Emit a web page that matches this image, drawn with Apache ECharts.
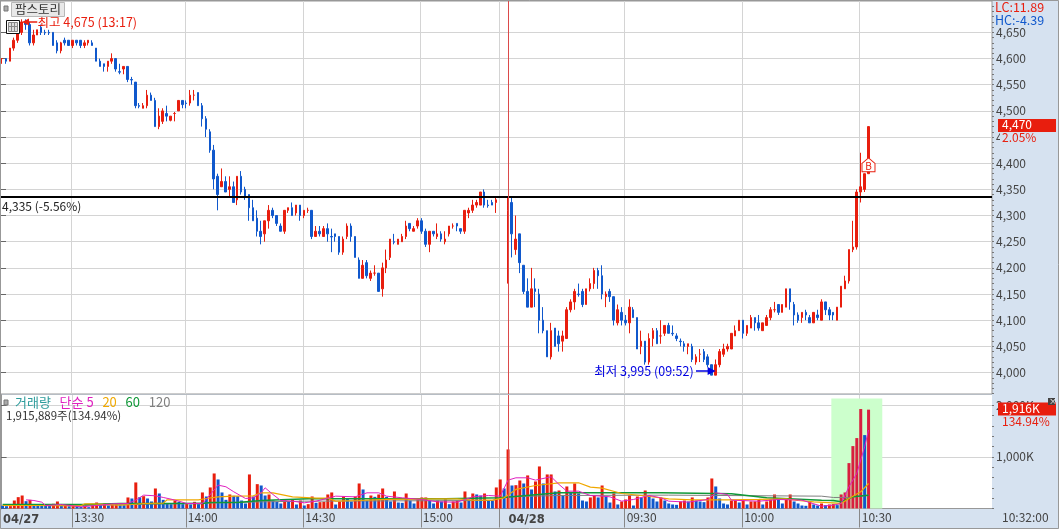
<!DOCTYPE html>
<html>
<head>
<meta charset="utf-8">
<script src="https://cdn.jsdelivr.net/npm/echarts@6/dist/echarts.min.js"></script>
<style>
  html, body { margin: 0; padding: 0; background: #fff; }
  #main { width: 1059px; height: 529px; }
</style>
</head>
<body>
<div id="main"></div>
<script>
// one row per minute: open, close, low, high
const candles = [
  [4600,4600,4590,4600],[4600,4595,4590,4600],[4595,4620,4595,4620],[4620,4635,4615,4640],[4635,4650,4630,4660],
  [4650,4670,4645,4675],[4670,4665,4655,4675],[4665,4630,4625,4670],[4630,4645,4625,4655],[4645,4655,4645,4655],
  [4660,4650,4645,4665],[4650,4649,4645,4655],[4650,4649,4645,4655],[4650,4625,4625,4650],[4630,4615,4610,4635],
  [4615,4630,4610,4632],[4635,4630,4625,4640],[4635,4625,4625,4635],[4625,4635,4620,4635],[4635,4630,4625,4635],
  [4635,4625,4620,4635],[4625,4630,4620,4635],[4630,4635,4625,4635],[4630,4625,4625,4635],[4620,4595,4595,4620],
  [4595,4585,4585,4600],[4590,4585,4575,4590],[4585,4595,4575,4595],[4595,4600,4590,4610],[4600,4580,4575,4600],
  [4575,4574,4570,4590],[4580,4585,4570,4585],[4585,4560,4555,4585],[4560,4559,4550,4565],[4555,4510,4505,4555],
  [4510,4509,4505,4515],[4505,4510,4505,4515],[4510,4530,4505,4540],[4530,4520,4520,4535],[4520,4470,4470,4525],
  [4470,4490,4465,4505],[4480,4500,4475,4505],[4495,4490,4480,4510],[4482,4490,4480,4490],[4495,4495,4480,4498],
  [4500,4520,4500,4520],[4520,4512,4505,4520],[4515,4514,4505,4520],[4515,4530,4510,4540],[4530,4530,4520,4540],
  [4535,4510,4510,4535],[4510,4485,4470,4515],[4485,4465,4450,4490],[4460,4425,4420,4465],[4425,4370,4350,4435],
  [4375,4340,4310,4380],[4355,4365,4355,4390],[4365,4345,4345,4375],[4350,4355,4335,4375],[4355,4325,4325,4365],
  [4330,4375,4320,4375],[4375,4345,4340,4385],[4350,4335,4330,4355],[4340,4315,4290,4340],[4315,4290,4290,4330],
  [4295,4270,4260,4310],[4270,4260,4245,4290],[4265,4290,4250,4290],[4290,4310,4275,4320],[4310,4300,4295,4315],
  [4300,4285,4280,4300],[4280,4270,4270,4285],[4270,4310,4265,4310],[4310,4315,4305,4315],[4315,4300,4300,4325],
  [4305,4320,4300,4320],[4320,4300,4290,4320],[4300,4310,4295,4310],[4310,4310,4305,4315],[4310,4260,4255,4310],
  [4260,4270,4260,4280],[4270,4265,4260,4280],[4260,4275,4260,4280],[4275,4265,4250,4285],[4260,4259,4230,4275],
  [4265,4260,4250,4265],[4260,4230,4225,4260],[4230,4255,4225,4260],[4260,4280,4255,4285],[4280,4260,4250,4285],
  [4260,4220,4220,4260],[4215,4180,4180,4220],[4180,4205,4180,4215],[4210,4185,4180,4215],[4180,4190,4175,4195],
  [4190,4190,4185,4205],[4190,4155,4155,4190],[4160,4200,4145,4210],[4200,4215,4190,4235],[4220,4255,4215,4255],
  [4250,4249,4245,4265],[4245,4255,4245,4255],[4250,4260,4250,4265],[4260,4280,4255,4290],[4285,4275,4270,4285],
  [4270,4275,4270,4280],[4280,4290,4275,4295],[4290,4270,4265,4295],[4270,4245,4240,4275],[4245,4270,4230,4270],
  [4270,4265,4260,4270],[4260,4265,4255,4285],[4265,4255,4250,4270],[4250,4255,4245,4270],[4265,4280,4260,4280],
  [4280,4280,4275,4285],[4285,4280,4270,4285],[4275,4270,4265,4275],[4270,4310,4265,4310],[4305,4310,4295,4315],
  [4310,4320,4305,4330],[4320,4325,4315,4330],[4320,4345,4320,4345],[4345,4320,4315,4350],[4320,4319,4315,4330],
  [4325,4320,4320,4330],[4325,4330,4305,4335],[4335,4335,4335,4335],[4335,4335,4335,4335],[4310,4320,4170,4335],
  [4325,4265,4220,4335],[4235,4255,4225,4300],[4265,4210,4190,4265],[4205,4155,4150,4205],[4155,4125,4125,4180],
  [4125,4160,4125,4200],[4160,4155,4125,4180],[4150,4100,4075,4160],[4100,4080,4075,4125],[4080,4030,4030,4080],
  [4030,4080,4025,4095],[4085,4050,4050,4085],[4070,4055,4040,4080],[4060,4070,4040,4080],[4065,4120,4065,4125],
  [4120,4135,4115,4140],[4135,4155,4120,4160],[4150,4149,4145,4170],[4155,4130,4125,4160],[4130,4160,4130,4160],
  [4160,4170,4155,4180],[4170,4195,4160,4200],[4195,4185,4160,4200],[4185,4150,4140,4205],[4145,4150,4125,4155],
  [4155,4145,4135,4160],[4145,4100,4090,4145],[4095,4120,4090,4130],[4115,4100,4090,4125],[4100,4095,4090,4110],
  [4095,4125,4075,4140],[4120,4105,4105,4125],[4105,4045,4045,4105],[4050,4060,4035,4080],[4060,4020,4015,4060],
  [4020,4065,4015,4075],[4065,4080,4050,4085],[4080,4055,4055,4085],[4070,4070,4055,4100],[4075,4090,4070,4090],
  [4090,4075,4075,4095],[4075,4074,4070,4090],[4070,4065,4060,4075],[4060,4059,4050,4065],[4055,4050,4040,4060],
  [4050,4055,4035,4055],[4050,4025,4020,4055],[4020,4030,4015,4035],[4035,4035,4020,4045],[4040,4025,4020,4045],
  [4030,4015,4010,4035],[4015,3995,3995,4015],[3995,4015,3995,4025],[4015,4040,4010,4045],[4035,4045,4030,4055],
  [4045,4050,4040,4055],[4045,4075,4045,4075],[4070,4080,4070,4090],[4080,4100,4080,4100],[4100,4075,4065,4100],
  [4075,4090,4070,4090],[4085,4105,4085,4110],[4105,4095,4080,4105],[4095,4085,4080,4110],[4080,4095,4080,4095],
  [4090,4105,4090,4110],[4105,4120,4100,4125],[4120,4120,4115,4135],[4130,4115,4110,4130],[4115,4130,4115,4130],
  [4125,4160,4125,4160],[4160,4135,4120,4160],[4130,4110,4090,4135],[4110,4100,4095,4115],[4105,4115,4095,4115],
  [4115,4110,4100,4120],[4105,4095,4095,4110],[4095,4115,4095,4115],[4110,4105,4100,4120],[4100,4135,4100,4140],
  [4135,4120,4110,4135],[4120,4110,4100,4125],[4115,4110,4100,4115],[4100,4125,4100,4125],[4125,4165,4125,4165],
  [4160,4175,4160,4185],[4175,4235,4170,4235],[4235,4240,4230,4290],[4240,4345,4235,4350],[4345,4355,4325,4420],
  [4350,4380,4345,4380],[4380,4470,4380,4470]
];
// volume in thousands of shares, one per candle
const volumes = [
  52,45,46,155,220,252,142,168,78,75, 65,60,52,91,136,78,78,45,71,52,
  32,52,26,78,116,84,97,58,97,97, 71,65,214,194,505,220,239,194,136,388,
  291,168,91,84,155,129,84,85,78,129, 84,311,233,408,679,563,311,168,272,246,
  239,155,97,660,233,472,
  446,252,272,155,129,97,155,136,175,78, 155,58,84,233,110,123,129,272,311,78,
  136,233,194,136,233,485,369,155,252,226, 272,388,226,136,330,116,110,291,155,97,
  175,214,214,155,97,155,136,175,84,136, 155,116,330,175,291,272,252,291,155,149,
  408,563,388,1145,446,452,543,485,641,369, 524,815,485,660,660,330,349,252,
  427,311,485,291,155,136,214,252,214,446, 233,116,291,78,136,175,252,58,233,214,
  349,252,194,136,214,155,97,78,71,136, 155,136,214,155,136,123,214,582,427,194,
  97,78,155,156,116,155,78,136,137,175, 78,136,175,272,194,97,175,272,136,97,
  58,52,136,78,58,97,65,78,84,65, 272,311,880,1210,1365,1928,1423,1916
];
// moving averages: [slot, value]
const ma5 = [[6,168],[8,155],[10,123],[11,58],[15,78],[20,32],[25,65],[28,91],[32,97],[34,162],[36,259],[39,246],[41,214],[43,181],[45,142],[47,97],[51,97],[52,181],[55,453],[57,421],[59,324],[62,194],[64,207],[66,304],[67,401],[69,272],[71,155],[74,142],[77,110],[80,142],[85,239],[90,226],[93,304],[96,304],[98,239],[102,207],[107,175],[111,129],[116,123],[120,226],[124,252],[127,239],[129,550],[131,595],[134,595],[136,550],[140,615],[142,466],[144,336],[147,336],[150,252],[153,239],[155,226],[158,142],[161,175],[165,252],[168,207],[170,142],[175,123],[180,175],[182,304],[185,272],[186,162],[193,142],[198,175],[204,162],[209,45],[212,65],[214,97],[216,421],[218,679],[220,1197],[221,1520]];
const ma20 = [[0,58],[8,58],[20,52],[21,91],[23,91],[30,65],[33,78],[36,97],[41,104],[42,168],[50,168],[52,194],[55,226],[59,239],[64,246],[66,304],[69,304],[74,226],[80,200],[83,200],[85,142],[91,155],[98,175],[111,188],[116,188],[120,162],[125,162],[128,207],[131,369],[136,446],[142,498],[147,498],[150,414],[153,395],[158,291],[163,252],[170,188],[176,168],[185,168],[193,175],[200,188],[203,155],[207,129],[212,110],[214,97],[216,194],[219,323],[221,485]];
const ma60 = [[0,78],[21,78],[30,97],[51,97],[53,116],[60,116],[66,155],[78,188],[113,188],[127,207],[130,226],[142,304],[168,304],[186,285],[195,207],[209,162],[212,155],[214,129],[217,226],[221,259]];
const ma120 = [[0,58],[21,58],[66,129],[77,142],[125,155],[128,226],[142,252],[170,259],[209,239],[212,214],[216,214],[221,259]];

const slotCount = 253;
const timeSlots = [18, 47, 77, 107, 127, 159, 189, 219];
const timeLabels = ["13:30", "14:00", "14:30", "15:00", "", "09:30", "10:00", "10:30"];
const dayLabels = ["04/27", "04/28"];
const daySlots = [0, 129];
const priceTicks = [4000,4050,4100,4150,4200,4250,4300,4350,4400,4450,4500,4550,4600,4650];
const volumeTicks = [0, 1000, 2000];

const prevClose = 4335;
const FONT = '"Noto Sans CJK KR", "Liberation Sans", sans-serif';
const RED = "#E81E0E", BLUE = "#1058CC", GRID = "#D4D4D4", FRAME = "#989898", TEXT = "#444", PANEL = "#D6E2F0";
const DAY_LINE = "#DB4A4A";
const SLOT_SHIFT = 0.25; // grid lines sit a bit right of the band edge

const slots = Array.from({ length: slotCount }, (_, i) => String(i));
const fmt = v => v.toLocaleString("en-US");
const tickPos = timeSlots.map(s => s + SLOT_SHIFT);
const labelPos = tickPos.filter((_, i) => timeLabels[i]).concat(daySlots.map(s => s + 0.1));
const labelText = v => {
  const t = tickPos.indexOf(v);
  if (t >= 0) return timeLabels[t];
  const d = daySlots.findIndex(s => s + 0.1 === v);
  return d >= 0 ? `{day|${dayLabels[d]}}` : "";
};

const hi = Math.max(...candles.map(c => c[3]));
const lo = Math.min(...candles.map(c => c[2]));
const hiIdx = candles.findIndex(c => c[3] === hi);
const loIdx = candles.findIndex(c => c[2] === lo);
const last = candles[candles.length - 1][1];
const lastVol = volumes[volumes.length - 1];

const maLine = (name, data, color, width) => ({
  name, type: "line", xAxisIndex: 1, yAxisIndex: 2, data, showSymbol: false, silent: true,
  lineStyle: { color, width }, itemStyle: { color }, animation: false, z: 4
});

const chart = echarts.init(document.getElementById("main"), null, { renderer: "canvas" });

chart.setOption({
  animation: false,
  backgroundColor: PANEL,
  textStyle: { fontFamily: FONT },
  title: [
    {
      text: "팜스토리", left: 11, top: 2, padding: [1, 4, 1, 4],
      backgroundColor: "#E8E8E8", borderColor: "#B8B8B8", borderWidth: 1,
      textStyle: { fontSize: 12.5, fontWeight: "normal", color: "#333", fontFamily: FONT, lineHeight: 13 }
    },
    {
      text: "{a|거래량}   {b|단순 5}   {c|20}   {d|60}   {e|120}", left: 15, top: 396, padding: 0,
      textStyle: {
        fontFamily: FONT, fontWeight: "normal", fontSize: 13,
        rich: {
          a: { color: "#2E9C9C", fontSize: 13, fontFamily: FONT },
          b: { color: "#E020C0", fontSize: 13, fontFamily: FONT },
          c: { color: "#F0A800", fontSize: 13, fontFamily: FONT },
          d: { color: "#109838", fontSize: 13, fontFamily: FONT },
          e: { color: "#808080", fontSize: 13, fontFamily: FONT }
        }
      }
    },
    {
      text: "1,915,889주(134.94%)", left: 6, top: 410, padding: 0,
      textStyle: { fontSize: 11.5, fontWeight: "normal", color: "#333", fontFamily: FONT }
    },
    { text: "LC:11.89", left: 995, top: 1, padding: 0, textStyle: { fontSize: 12.5, fontWeight: "normal", color: RED, fontFamily: FONT } },
    { text: "HC:-4.39", left: 995, top: 14, padding: 0, textStyle: { fontSize: 12.5, fontWeight: "normal", color: BLUE, fontFamily: FONT } },
    { text: "10:32:00", left: 1002, top: 511, padding: 0, textStyle: { fontSize: 12, fontWeight: "normal", color: TEXT, fontFamily: FONT } }
  ],
  grid: [
    { left: 0, top: 1, width: 992, height: 393, show: true, backgroundColor: "#fff", borderColor: FRAME, borderWidth: 1 },
    { left: 0, top: 395, width: 992, height: 113.5, show: true, backgroundColor: "#fff", borderColor: FRAME, borderWidth: 0 }
  ],
  xAxis: [
    { type: "category", gridIndex: 0, data: slots, show: false, boundaryGap: true, axisTick: { interval: 0 }, axisLabel: { interval: 0 } },
    { type: "category", gridIndex: 1, data: slots, show: false, boundaryGap: true, axisTick: { interval: 0 }, axisLabel: { interval: 0 } },
    {
      type: "value", gridIndex: 0, min: 0, max: slotCount,
      axisLine: { show: false }, axisLabel: { show: false },
      axisTick: { show: false, customValues: tickPos },
      splitLine: { show: true, lineStyle: { color: GRID, width: 1 } }
    },
    {
      type: "value", gridIndex: 1, min: 0, max: slotCount, position: "bottom",
      axisLine: { show: true, lineStyle: { color: FRAME, width: 1 } },
      axisTick: { show: true, customValues: tickPos, length: 19, lineStyle: { color: "#888" } },
      axisLabel: {
        show: true, customValues: labelPos, formatter: labelText, margin: 3,
        align: "left", color: TEXT, fontSize: 12, fontFamily: FONT, padding: [0, 0, 0, 2], hideOverlap: false,
        rich: { day: { fontWeight: "bold", fontSize: 11.5, color: TEXT, fontFamily: "DejaVu Sans", padding: [3, 0, 0, 0] } }
      },
      splitLine: { show: true, lineStyle: { color: GRID, width: 1 } }
    }
  ],
  yAxis: [
    {
      type: "value", gridIndex: 0, position: "right", min: 3959, max: 4710, scale: true,
      axisLine: { show: true, lineStyle: { color: FRAME, width: 2 } },
      axisTick: { show: true, customValues: priceTicks, length: 6, lineStyle: { color: "#666" } },
      axisLabel: { show: true, customValues: priceTicks, formatter: v => fmt(v), color: TEXT, fontSize: 12, margin: 4, padding: [0, 0, 2, 0], fontFamily: FONT },
      splitLine: { show: true, lineStyle: { color: GRID, width: 1 } }
    },
    {
      type: "value", gridIndex: 0, position: "right", min: 3959, max: 4710, scale: true,
      axisLine: { show: false }, axisLabel: { show: false }, splitLine: { show: false },
      axisTick: { show: true, customValues: Array.from({ length: 75 }, (_, i) => 3960 + i * 10), length: 2, lineStyle: { color: "#777" } }
    },
    {
      type: "value", gridIndex: 1, position: "right", min: 0, max: 2200,
      axisLine: { show: true, lineStyle: { color: FRAME, width: 2 } },
      axisTick: { show: true, customValues: volumeTicks, length: 6, lineStyle: { color: "#666" } },
      axisLabel: { show: true, customValues: volumeTicks.slice(1), formatter: v => fmt(v) + "K", color: TEXT, fontSize: 12, margin: 4, padding: [0, 0, 2, 0], fontFamily: FONT },
      splitLine: { show: true, lineStyle: { color: GRID, width: 1 } }
    },
    {
      type: "value", gridIndex: 1, position: "right", min: 0, max: 2200,
      axisLine: { show: false }, axisLabel: { show: false }, splitLine: { show: false },
      axisTick: { show: true, customValues: Array.from({ length: 11 }, (_, i) => i * 200), length: 2, lineStyle: { color: "#777" } }
    }
  ],
  series: [
    {
      name: "팜스토리", type: "candlestick", xAxisIndex: 0, yAxisIndex: 0, data: candles, barWidth: 2, silent: true,
      itemStyle: {
        color: RED, color0: BLUE, borderColor: RED, borderColor0: BLUE, borderColorDoji: RED, borderWidth: 1
      },
      markLine: {
        silent: true, symbol: "none", animation: false, precision: 0,
        data: [
          {
            yAxis: prevClose, lineStyle: { color: "#000", width: 2, type: "solid" },
            label: { show: true, position: "insideStartBottom", formatter: "4,335 (-5.56%)", color: "#222", fontSize: 12, distance: [2, 3], fontFamily: FONT }
          },
          { xAxis: String(daySlots[1]), lineStyle: { color: DAY_LINE, width: 1, type: "solid" }, label: { show: false } },
          // arrows of the high and low notes
          [
            { coord: ["9", 4670], symbol: "none", lineStyle: { color: RED, width: 1.5, type: "solid" }, label: { show: false } },
            { coord: ["6", 4670], symbol: "triangle", symbolSize: 7 }
          ],
          [
            { coord: ["177", 4003], symbol: "none", lineStyle: { color: "#0000E0", width: 1.5, type: "solid" }, label: { show: false } },
            { coord: ["181", 4003], symbol: "triangle", symbolSize: 8 }
          ]
        ]
      },
      markPoint: {
        silent: true, animation: false,
        data: [
          {
            coord: [String(hiIdx), hi], symbol: "circle", symbolSize: 0,
            label: { show: true, position: "right", distance: 16, offset: [0, 3], color: RED, fontSize: 12.5, fontFamily: FONT, formatter: `최고 ${fmt(hi)} (13:17)` }
          },
          {
            coord: [String(loIdx), lo], symbol: "circle", symbolSize: 0,
            label: { show: true, position: "left", distance: 2, offset: [-16, -4], color: "#0000E0", fontSize: 12.5, fontFamily: FONT, formatter: `최저 ${fmt(lo)} (09:52)` }
          },
          {
            coord: [String(candles.length - 1), 4397], symbol: "path://M7 0 L14 6 L14 15 L0 15 L0 6 Z", symbolSize: [13, 14],
            itemStyle: { color: "#fff", borderColor: RED, borderWidth: 1 },
            label: { show: true, position: "inside", color: RED, fontSize: 10, fontFamily: FONT, formatter: "B", offset: [0, 1] }
          }
        ]
      }
    },
    {
      name: "거래량", type: "bar", xAxisIndex: 1, yAxisIndex: 2, data: volumes, barWidth: 3, silent: true, z: 3,
      itemStyle: {
        // red when volume rises over the previous minute, blue when it falls
        color: p => {
          const up = p.dataIndex === 0 ? false : volumes[p.dataIndex] >= volumes[p.dataIndex - 1];
          if (!up) return BLUE;
          return p.dataIndex >= 214 ? "#D81F3E" : RED;
        }
      },
      markArea: {
        silent: true, animation: false, itemStyle: { color: "#CCFFCC" },
        data: [[{ xAxis: "212", yAxis: 0 }, { xAxis: "224", yAxis: 2130 }]]
      },
      markLine: {
        silent: true, symbol: "none", animation: false, label: { show: false },
        lineStyle: { color: DAY_LINE, width: 1, type: "solid" },
        data: [{ xAxis: String(daySlots[1]) }]
      }
    },
    maLine("120", ma120, "#808080", 1),
    maLine("60", ma60, "#109838", 1.5),
    maLine("20", ma20, "#F0A800", 1.2),
    maLine("5", ma5, "#E020C0", 1)
  ]
});

// price and volume tags on the right axes, placed from the axis scales
const priceY = chart.convertToPixel({ yAxisIndex: 0 }, last);
const tag = (y, text, sub) => [
  { type: "rect", shape: { x: 998, y: y - 7.5, width: 58, height: 13 }, style: { fill: RED }, z: 50 },
  { type: "text", x: 1002, y: y - 8, style: { text, fill: "#fff", fontSize: 12, fontFamily: FONT }, z: 51 },
  { type: "rect", shape: { x: 1000, y: y + 5.5, width: 50, height: 12 }, style: { fill: PANEL }, z: 49 },
  { type: "text", x: 1002, y: y + 5, style: { text: sub, fill: RED, fontSize: 12, fontFamily: FONT }, z: 51 }
];
chart.setOption({
  graphic: [
    { type: "rect", shape: { x: 0.5, y: 0.5, width: 1058, height: 528 }, style: { fill: "none", stroke: FRAME, lineWidth: 1 }, z: 60 },
    { type: "rect", shape: { x: 4, y: 6, width: 4, height: 5 }, style: { fill: "#AAA", stroke: "#777" }, z: 60 },
    { type: "rect", shape: { x: 4, y: 400, width: 4, height: 5 }, style: { fill: "#AAA", stroke: "#777" }, z: 60 },
    { type: "rect", shape: { x: 6.5, y: 20.5, width: 13, height: 13 }, style: { fill: "#fff", stroke: "#111", lineWidth: 1 }, z: 60 },
    { type: "rect", shape: { x: 8.5, y: 22.5, width: 9, height: 9 }, style: { fill: "#ddd", stroke: "#888" }, z: 61 },
    { type: "line", shape: { x1: 11.5, y1: 22, x2: 11.5, y2: 32 }, style: { stroke: "#888" }, z: 62 },
    { type: "line", shape: { x1: 14.5, y1: 22, x2: 14.5, y2: 32 }, style: { stroke: "#888" }, z: 62 },
    { type: "line", shape: { x1: 8, y1: 26.5, x2: 18, y2: 26.5 }, style: { stroke: "#888" }, z: 62 },
    ...tag(priceY, fmt(last), "2.05%"),
    ...tag(410, fmt(lastVol) + "K", "134.94%"),
    { type: "rect", shape: { x: 1048, y: 398, width: 7, height: 7 }, style: { fill: "#444" }, z: 60 },
    { type: "text", x: 1049, y: 397, style: { text: "×", fill: "#fff", fontSize: 8, fontFamily: FONT }, z: 61 }
  ]
});
</script>
</body>
</html>
